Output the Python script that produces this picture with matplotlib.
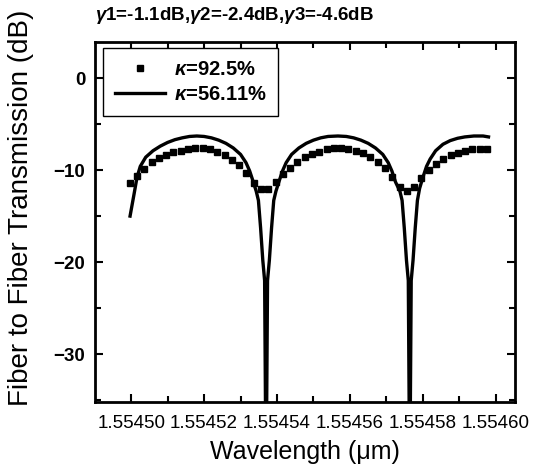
import numpy as np
import matplotlib
matplotlib.use('Agg')
import matplotlib.pyplot as plt
from matplotlib.ticker import MultipleLocator, FormatStrFormatter

plt.rcParams['font.family'] = ['Liberation Sans', 'DejaVu Sans']
plt.rcParams['mathtext.fontset'] = 'custom'
plt.rcParams['mathtext.rm'] = 'Liberation Sans:bold'
plt.rcParams['mathtext.it'] = 'Liberation Sans:italic:bold'
plt.rcParams['mathtext.bf'] = 'Liberation Sans:bold'

# kappa = 92.5% (squares), sampled every 2 pm
sq_start = 1.5544996
sq_step = 0.000002
sq_db = [-11.45, -10.65, -9.93, -9.13, -8.73, -8.33, -8.08, -7.93, -7.75, -7.65,
         -7.65, -7.72, -8.0, -8.4, -8.9, -9.45, -10.35, -11.45, -12.1, -12.1,
         -11.3, -10.4, -9.8, -9.1, -8.6, -8.3, -8.0, -7.75, -7.65, -7.65,
         -7.75, -7.9, -8.1, -8.55, -9.1, -9.8, -10.7, -11.8, -12.3, -11.8,
         -10.9, -10.0, -9.3, -8.85, -8.4, -8.1, -7.9, -7.75, -7.75, -7.75]
sq_wl = sq_start + sq_step * np.arange(len(sq_db))

# kappa = 56.11% (solid line)
line_wl = [1.5544997, 1.5545008, 1.5545016, 1.5545025, 1.5545040, 1.5545060,
           1.5545080, 1.5545100, 1.5545120, 1.5545140, 1.5545160, 1.5545180,
           1.5545200, 1.5545220, 1.5545240, 1.5545260, 1.5545280, 1.5545300,
           1.5545315, 1.5545325, 1.5545335, 1.5545343, 1.5545349, 1.5545355,
           1.5545361, 1.5545366, 1.5545370, 1.5545374, 1.5545379, 1.5545385,
           1.5545391, 1.5545397, 1.5545405, 1.5545415, 1.5545425, 1.5545440,
           1.5545460, 1.5545480, 1.5545500, 1.5545520, 1.5545540, 1.5545567,
           1.5545590, 1.5545610, 1.5545630, 1.5545650, 1.5545670, 1.5545690,
           1.5545705, 1.5545715, 1.5545725, 1.5545737, 1.5545743, 1.5545749,
           1.5545755, 1.5545760, 1.5545764, 1.5545768, 1.5545773, 1.5545779,
           1.5545785, 1.5545791, 1.5545800, 1.5545810, 1.5545820, 1.5545835,
           1.5545855, 1.5545875, 1.5545895, 1.5545915, 1.5545940, 1.5545965,
           1.5545980]
line_db = [-15.0, -12.6, -10.8, -9.6, -8.6, -7.9,
           -7.4, -7.0, -6.7, -6.5, -6.35, -6.3,
           -6.35, -6.5, -6.75, -7.1, -7.6, -8.3,
           -9.2, -10.1, -11.3, -12.3, -13.3, -16.3,
           -19.8, -22.0, -45.0, -22.0, -19.8, -16.3,
           -13.3, -12.3, -11.3, -10.1, -9.2, -8.3,
           -7.6, -7.1, -6.75, -6.5, -6.35, -6.3,
           -6.35, -6.5, -6.75, -7.1, -7.6, -8.3,
           -9.2, -10.1, -11.3, -12.3, -13.3, -16.3,
           -19.8, -22.0, -45.0, -22.0, -19.8, -16.3,
           -13.3, -12.0, -10.8, -9.6, -8.8, -7.9,
           -7.2, -6.8, -6.55, -6.4, -6.3, -6.3,
           -6.4]

fig = plt.figure(figsize=(5.34, 4.73), dpi=100)
ax = fig.add_axes([0.178, 0.150, 0.786, 0.761])

ax.plot(sq_wl, sq_db, 's', color='black', markersize=4.4, label=r'$\kappa$=92.5%')
ax.plot(line_wl, line_db, '-', color='black', lw=2.4, label=r'$\kappa$=56.11%')

ax.set_xlim(1.5544901, 1.5546052)
ax.set_ylim(-35.2, 3.9)
ax.xaxis.set_major_locator(MultipleLocator(0.00002))
ax.xaxis.set_minor_locator(MultipleLocator(0.00001))
ax.xaxis.set_major_formatter(FormatStrFormatter('%.5f'))
ax.yaxis.set_major_locator(MultipleLocator(10))
ax.yaxis.set_minor_locator(MultipleLocator(5))

ax.tick_params(which='both', direction='in', top=True, right=True, width=1.5)
ax.tick_params(which='major', length=6)
ax.tick_params(which='minor', length=4)
ax.tick_params(axis='x', labelsize=13.5, pad=9)
ax.tick_params(axis='y', labelsize=13.5, pad=7)
for lab in ax.get_yticklabels():
    lab.set_fontweight('bold')
for sp in ax.spines.values():
    sp.set_linewidth(2)

ax.set_xlabel('Wavelength (\u03bcm)', fontsize=18, labelpad=6)
ax.set_ylabel('Fiber to Fiber Transmission (dB)', fontsize=20)
ax.yaxis.set_label_coords(-0.145, 0.54)

ax.text(0.0, 1.045, r'$\gamma$1=-1.1dB,$\gamma$2=-2.4dB,$\gamma$3=-4.6dB',
        transform=ax.transAxes, fontsize=13.5, fontweight='bold', ha='left', va='bottom')

leg = ax.legend(loc='upper left', bbox_to_anchor=(0.019, 0.983), borderaxespad=0,
                numpoints=1, handlelength=2.5, handletextpad=0.4, labelspacing=0.3,
                borderpad=0.6, fancybox=False, framealpha=1,
                prop={'weight': 'bold', 'size': 14.5})
leg.get_frame().set_edgecolor('black')
leg.get_frame().set_linewidth(1)

fig.savefig('out.png', dpi=100)
